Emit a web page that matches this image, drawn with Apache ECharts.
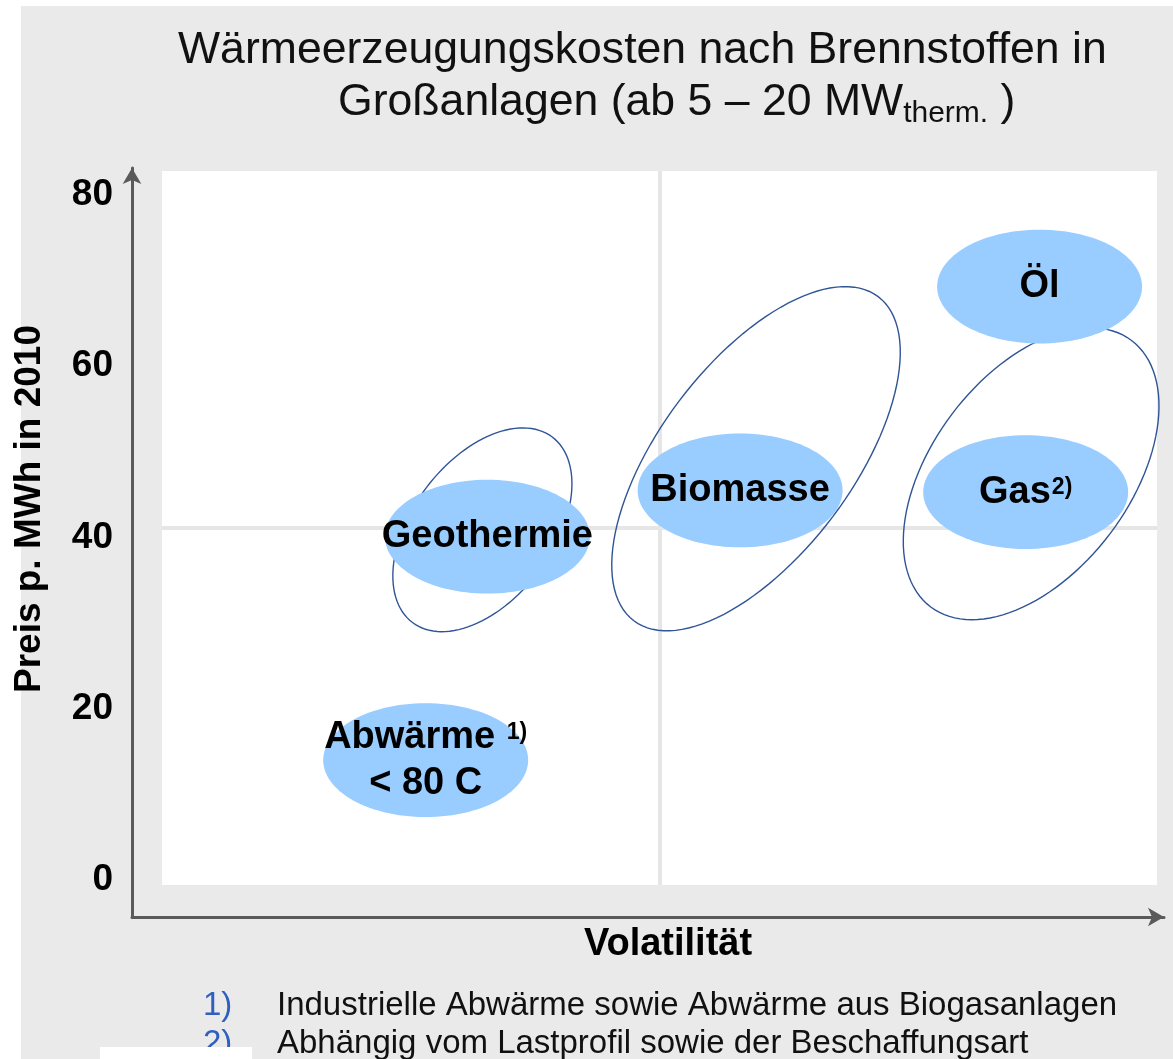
<!DOCTYPE html>
<html>
<head>
<meta charset="utf-8">
<title>Wärmeerzeugungskosten nach Brennstoffen</title>
<script src="https://cdn.jsdelivr.net/npm/echarts@6/dist/echarts.min.js"></script>
<style>
  html, body { margin: 0; padding: 0; background: #fff; }
  #panel { position: absolute; left: 21px; top: 6px; width: 1152px; height: 1053px; background: #eaeaea; }
  #chart { position: absolute; left: 0; top: 0; width: 1173px; height: 1059px; }
</style>
</head>
<body>
<div id="panel"></div>
<div id="chart"></div>
<script>
// Brennstoffe (gefuellte Ellipsen)
const fuels = ['Abwärme', 'Geothermie', 'Biomasse', 'Gas', 'Öl']
const fuelLabels = [
  '{b|Abwärme }{s|1)}\n{b|< 80 C}',
  '{b|Geothermie}',
  '{b|Biomasse}',
  '{b|Gas}{s|2)}',
  '{b|Öl}'
]
const volatility = [26.5, 32.7, 58.1, 86.8, 88.2]
const price = [14.0, 40.1, 45.5, 45.3, 69.3]

// Schwankungsbreite (Umriss-Ellipsen)
const rangeFuels = ['Geothermie', 'Biomasse', 'Gas']
const volatilityMin = [23.2, 45.2, 74.5]
const volatilityMax = [41.2, 74.2, 100.2]
const priceMin = [29.0, 29.1, 30.4]
const priceMax = [52.8, 69.3, 64.5]

const priceTicks = [0, 20, 40, 60, 80]
const footnoteMarks = ['1)', '2)']
const footnotes = [
  'Industrielle Abwärme sowie Abwärme aus Biogasanlagen',
  'Abhängig vom Lastprofil sowie der Beschaffungsart'
]

const FONT = "'Liberation Sans', Arial, sans-serif"
const BLOB_RX = 10.3 // in Volatilitaet-Einheiten
const BLOB_RY = 6.65 // in Preis-Einheiten
const TILT = 53

function ellipsePoints(cx, cy, a, b, deg) {
  const t = deg * Math.PI / 180
  const pts = []
  for (let i = 0; i < 120; i++) {
    const u = i / 120 * Math.PI * 2
    const ux = a * Math.cos(u)
    const uy = b * Math.sin(u)
    pts.push([cx + ux * Math.cos(t) - uy * Math.sin(t), cy - (ux * Math.sin(t) + uy * Math.cos(t))])
  }
  return pts
}

// halbe Achsen einer gedrehten Ellipse aus ihrer Bounding-Box
function axesFromBox(w, h, deg) {
  const t = deg * Math.PI / 180
  const c = Math.cos(t) ** 2
  const s = Math.sin(t) ** 2
  const a2 = (w * w * c - h * h * s) / (c - s)
  const b2 = (h * h * c - w * w * s) / (c - s)
  return [Math.sqrt(Math.abs(a2)), Math.sqrt(Math.abs(b2))]
}

const richLabel = {
  b: { fontSize: 38, fontWeight: 'bold', fontFamily: FONT, color: '#000', lineHeight: 46 },
  s: { fontSize: 23, fontWeight: 'bold', fontFamily: FONT, color: '#000', lineHeight: 34, verticalAlign: 'top', padding: [7, 0, 0, 1] }
}

const chart = echarts.init(document.getElementById('chart'))

chart.setOption({
  animation: false,
  title: [{
    text: 'Wärmeerzeugungskosten nach Brennstoffen in',
    left: 178,
    top: 25,
    padding: 0,
    textStyle: { fontSize: 44.6, fontWeight: 'normal', fontFamily: FONT, color: '#111', lineHeight: 52 }
  }, {
    text: '{n|Großanlagen (ab 5 – 20 MW}{sub|therm.}{n| )}',
    left: 338,
    top: 77,
    padding: 0,
    textStyle: {
      fontSize: 44.6,
      fontWeight: 'normal',
      fontFamily: FONT,
      color: '#111',
      rich: {
        n: { fontSize: 44.6, fontWeight: 'normal', fontFamily: FONT, color: '#111', lineHeight: 52 },
        sub: { fontSize: 30, fontWeight: 'normal', fontFamily: FONT, color: '#111', lineHeight: 18, verticalAlign: 'bottom', padding: [6, 0, 0, 0] }
      }
    }
  }],
  grid: [
    // weisse Flaeche mit Quadranten
    { left: 162, right: 16, top: 171, bottom: 174, show: true, backgroundColor: '#fff', borderWidth: 0 },
    // Datenraster
    { left: 162, right: 16, top: 195, bottom: 179 },
    // Achsen mit Pfeilen
    { left: 132, right: 9, top: 168, bottom: 142 }
  ],
  xAxis: [{
    gridIndex: 0, type: 'value', min: 0, max: 2, interval: 1,
    axisLine: { show: false }, axisTick: { show: false }, axisLabel: { show: false },
    splitLine: { show: true, showMinLine: false, showMaxLine: false, lineStyle: { color: '#e6e6e6', width: 4 } }
  }, {
    gridIndex: 1, type: 'value', min: 0, max: 100, show: false
  }, {
    gridIndex: 2, type: 'value', min: 0, max: 1,
    axisLine: { show: true, onZero: false, symbol: ['none', 'arrow'], symbolSize: [14, 16], lineStyle: { color: '#5a5a5a', width: 3 } },
    axisTick: { show: false }, axisLabel: { show: false }, splitLine: { show: false }
  }],
  yAxis: [{
    gridIndex: 0, type: 'value', min: 0, max: 2, interval: 1,
    axisLine: { show: false }, axisTick: { show: false }, axisLabel: { show: false },
    splitLine: { show: true, showMinLine: false, showMaxLine: false, lineStyle: { color: '#e6e6e6', width: 4 } }
  }, {
    gridIndex: 1, type: 'value',
    min: priceTicks[0], max: priceTicks[priceTicks.length - 1], interval: priceTicks[1] - priceTicks[0],
    axisLine: { show: false }, axisTick: { show: false }, splitLine: { show: false },
    axisLabel: { margin: 49, fontSize: 37, fontWeight: 'bold', fontFamily: FONT, color: '#000' }
  }, {
    gridIndex: 2, type: 'value', min: 0, max: 1,
    axisLine: { show: true, onZero: false, symbol: ['none', 'arrow'], symbolSize: [14, 16], lineStyle: { color: '#5a5a5a', width: 3 } },
    axisTick: { show: false }, axisLabel: { show: false }, splitLine: { show: false }
  }],
  graphic: [{
    type: 'text', x: 30, y: 509, rotation: Math.PI / 2,
    style: { text: 'Preis p. MWh in 2010', font: 'bold 37px ' + FONT, fill: '#000', textAlign: 'center', textVerticalAlign: 'middle' }
  }, {
    type: 'text', x: 668, y: 945,
    style: { text: 'Volatilität', font: 'bold 38px ' + FONT, fill: '#000', textAlign: 'center', textVerticalAlign: 'middle' }
  }, ...footnotes.flatMap((t, i) => [{
    type: 'text', x: 203, y: 1006 + i * 38,
    style: { text: footnoteMarks[i], font: '33px ' + FONT, fill: '#2f5fbf', textAlign: 'left', textVerticalAlign: 'middle' }
  }, {
    type: 'text', x: 277, y: 1006 + i * 38,
    style: { text: t, font: '33px ' + FONT, fill: '#111', textAlign: 'left', textVerticalAlign: 'middle' }
  }]), {
    type: 'rect', x: 100, y: 1047, z: 100,
    shape: { width: 152, height: 12 },
    style: { fill: '#fff' }
  }],
  series: [{
    name: 'Schwankungsbreite',
    type: 'custom',
    xAxisIndex: 1,
    yAxisIndex: 1,
    z: 2,
    data: rangeFuels.map((f, i) => [volatilityMin[i], volatilityMax[i], priceMin[i], priceMax[i]]),
    encode: { x: [0, 1], y: [2, 3] },
    renderItem(params, api) {
      const p1 = api.coord([api.value(0), api.value(2)])
      const p2 = api.coord([api.value(1), api.value(3)])
      const cx = (p1[0] + p2[0]) / 2
      const cy = (p1[1] + p2[1]) / 2
      const ab = axesFromBox(Math.abs(p2[0] - p1[0]) / 2, Math.abs(p2[1] - p1[1]) / 2, TILT)
      return {
        type: 'polygon',
        shape: { points: ellipsePoints(cx, cy, ab[0], ab[1], TILT) },
        style: { fill: 'none', stroke: '#2f5597', lineWidth: 1.4 }
      }
    }
  }, {
    name: 'Brennstoffe',
    type: 'custom',
    xAxisIndex: 1,
    yAxisIndex: 1,
    z: 3,
    data: fuels.map((f, i) => [volatility[i], price[i]]),
    encode: { x: 0, y: 1 },
    renderItem(params, api) {
      const c = api.coord([api.value(0), api.value(1)])
      const s = api.size([BLOB_RX, BLOB_RY])
      return {
        type: 'group',
        children: [{
          type: 'polygon',
          shape: { points: ellipsePoints(c[0], c[1], s[0], s[1], 0) },
          style: { fill: '#99ccff' }
        }, {
          type: 'text',
          style: {
            x: c[0], y: c[1],
            text: fuelLabels[params.dataIndex],
            rich: richLabel,
            fill: '#000',
            textAlign: 'center', textVerticalAlign: 'middle'
          }
        }]
      }
    }
  }]
})
</script>
</body>
</html>
